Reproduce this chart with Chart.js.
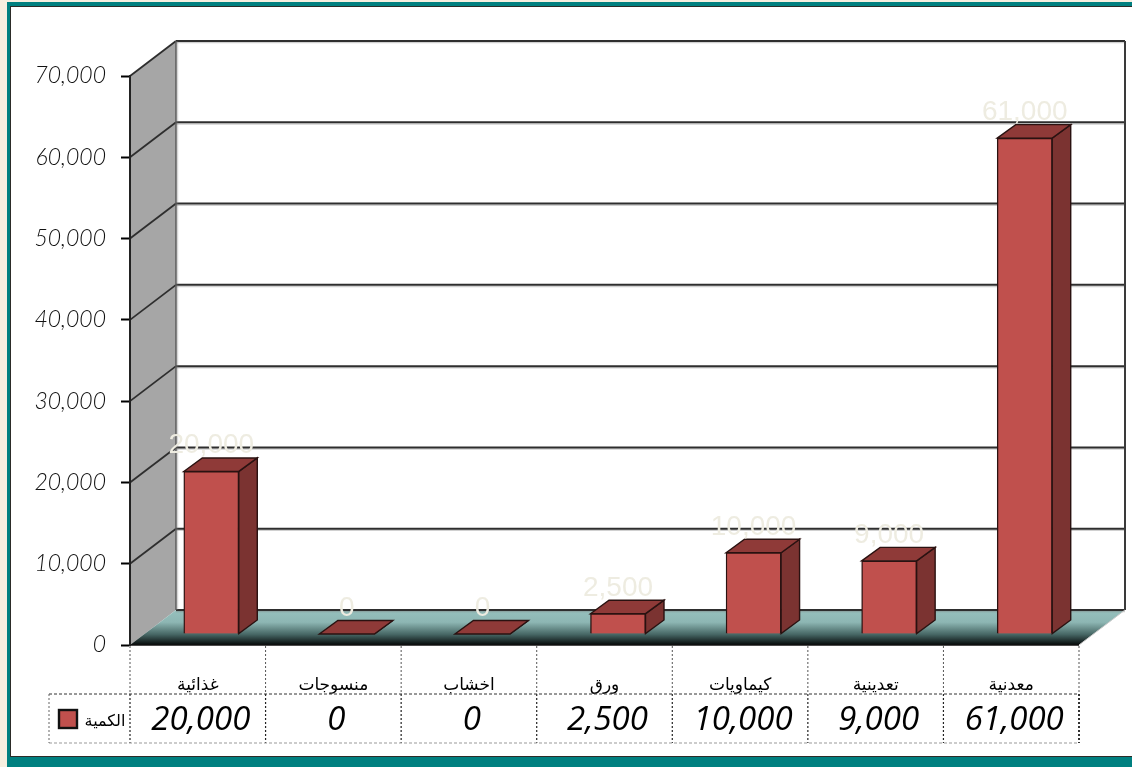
<!DOCTYPE html>
<html lang="ar">
<head>
<meta charset="utf-8">
<title>الكمية</title>
<script src="https://cdn.jsdelivr.net/npm/chart.js@4"></script>
<style>
  html, body { margin: 0; height: 100%; overflow: hidden; background: #f6efe0; }
  #frame { position: absolute; left: 7px; top: 2px; width: 1140px; height: 765px; background: #008080; }
  #inner { position: absolute; left: 3px; top: 4px; width: 1130px; height: 749px; background: #fff; border: 1.5px solid #2c2c28; }
  #chart { position: absolute; left: 0; top: 0; }
</style>
</head>
<body>
<div id="frame"><div id="inner"></div></div>
<canvas id="chart" width="1132" height="767" style="width:1132px;height:767px"></canvas>
<script>
var categories = ["غذائية", "منسوجات", "اخشاب", "ورق", "كيماويات", "تعدينية", "معدنية"];
var values = [20000, 0, 0, 2500, 10000, 9000, 61000];
var seriesName = "الكمية";
var yTicks = [0, 10000, 20000, 30000, 40000, 50000, 60000, 70000];

var wallDx = 46, wallDy = 35;     // back wall offset from the front plane
var barDx = 13.5, barDy = 11;     // bars stand part way into the floor
var sideDx = 18.5, sideDy = 13.5; // depth of each bar

function fmt(v) { return v.toLocaleString("en-US"); }

function poly(ctx, pts, fill, stroke, lw) {
  ctx.beginPath();
  ctx.moveTo(pts[0][0], pts[0][1]);
  for (var i = 1; i < pts.length; i++) ctx.lineTo(pts[i][0], pts[i][1]);
  ctx.closePath();
  if (fill) { ctx.fillStyle = fill; ctx.fill(); }
  if (stroke) { ctx.strokeStyle = stroke; ctx.lineWidth = lw || 1; ctx.stroke(); }
}

function line(ctx, x1, y1, x2, y2, color, lw, dash) {
  ctx.beginPath();
  ctx.setLineDash(dash || []);
  ctx.moveTo(x1, y1);
  ctx.lineTo(x2, y2);
  ctx.strokeStyle = color;
  ctx.lineWidth = lw;
  ctx.stroke();
  ctx.setLineDash([]);
}

var walls = {
  id: "walls",
  beforeDraw: function(chart) {
    var ctx = chart.ctx, a = chart.chartArea, y = chart.scales.y;
    var y0 = y.getPixelForValue(0), yTop = y.getPixelForValue(70000);
    ctx.save();
    // left wall
    poly(ctx, [[a.left, yTop], [a.left + wallDx, yTop - wallDy], [a.left + wallDx, y0 - wallDy], [a.left, y0]], "#a6a6a6");
    // floor
    var g = ctx.createLinearGradient(0, y0 - wallDy, 0, y0);
    g.addColorStop(0, "#96c0bd");
    g.addColorStop(0.35, "#8db6b3");
    g.addColorStop(0.7, "#466664");
    g.addColorStop(1, "#050808");
    poly(ctx, [[a.left, y0], [a.right, y0], [a.right + wallDx, y0 - wallDy], [a.left + wallDx, y0 - wallDy]], g);
    // grid lines on the back wall and the left wall
    yTicks.forEach(function(t) {
      var p = y.getPixelForValue(t);
      if (t > 0) {
        line(ctx, a.left, p, a.left + wallDx, p - wallDy, "#2e2e2e", 1.8);
      }
      line(ctx, a.left + wallDx, p - wallDy + 1.6, a.right + wallDx, p - wallDy + 1.6, "rgba(120,120,120,0.35)", 1.5);
      line(ctx, a.left + wallDx, p - wallDy, a.right + wallDx, p - wallDy, "#2e2e2e", 2);
    });
    line(ctx, a.left + wallDx, yTop - wallDy, a.left + wallDx, y0 - wallDy, "#5a5a5a", 1.5);
    line(ctx, a.left + wallDx + 1.5, yTop - wallDy, a.left + wallDx + 1.5, y0 - wallDy, "rgba(120,120,120,0.3)", 1.5);
    line(ctx, a.right + wallDx, yTop - wallDy, a.right + wallDx, y0 - wallDy, "#3a3a3a", 2);
    line(ctx, a.right, y0, a.right + wallDx, y0 - wallDy, "#c9c9c9", 1);
    line(ctx, a.left, y0, a.right, y0, "#111", 1.5);
    ctx.restore();
  }
};

var bars3d = {
  id: "bars3d",
  beforeDatasetDraw: function(chart, args) {
    var ctx = chart.ctx;
    ctx.save();
    ctx.translate(barDx, -barDy);
    args.meta.data.forEach(function(el) {
      var l = el.x - el.width / 2, r = el.x + el.width / 2, t = el.y, b = el.base;
      poly(ctx, [[r, t], [r + sideDx, t - sideDy], [r + sideDx, b - sideDy], [r, b]], "#7b3331", "#2a1211", 1.4);
      poly(ctx, [[l, t], [r, t], [r + sideDx, t - sideDy], [l + sideDx, t - sideDy]], "#8f3a38", "#2a1211", 1.4);
    });
  },
  afterDatasetDraw: function(chart, args) {
    var ctx = chart.ctx;
    ctx.restore();
    ctx.save();
    ctx.font = "28px 'Liberation Sans'";
    ctx.fillStyle = "#eeece1";
    ctx.textAlign = "center";
    ctx.textBaseline = "alphabetic";
    args.meta.data.forEach(function(el, i) {
      ctx.fillText(fmt(values[i]), el.x + barDx, el.y - barDy - 18);
    });
    ctx.restore();
  }
};

var dataTable = {
  id: "dataTable",
  afterDraw: function(chart) {
    var ctx = chart.ctx, a = chart.chartArea, x = chart.scales.x;
    var top = a.bottom, mid = 694, bot = 743, legendLeft = 49;
    var step = (a.right - a.left) / categories.length;
    var dash = [2, 2];
    ctx.save();
    for (var i = 0; i <= categories.length; i++) {
      var px = a.left + step * i;
      line(ctx, px, top + 1, px, mid, "#555", 1, dash);
      line(ctx, px, mid, px, bot, i == categories.length ? "#000" : "#222", i == categories.length ? 1.6 : 1.2, dash);
    }
    line(ctx, legendLeft, mid, a.right, mid, "#333", 1, [3, 2]);
    line(ctx, legendLeft, bot, a.right, bot, "#999", 1, [3, 2]);
    line(ctx, legendLeft, mid, legendLeft, bot, "#666", 1, dash);

    ctx.fillStyle = "#000";
    ctx.textAlign = "center";
    ctx.textBaseline = "alphabetic";
    ctx.font = "italic 500 33px 'Open Sans'";
    values.forEach(function(v, i) {
      ctx.fillText(fmt(v), x.getPixelForValue(i) + 3, 730);
    });

    // legend key
    ctx.fillStyle = "#c0504d";
    ctx.fillRect(59, 710, 18, 18);
    ctx.strokeStyle = "#111";
    ctx.lineWidth = 2.4;
    ctx.strokeRect(59, 710, 18, 18);
    ctx.fillStyle = "#000";
    ctx.font = "16px 'DejaVu Sans'";
    ctx.fillText(seriesName, 105, 726);
    ctx.restore();
  }
};

var chart = new Chart(document.getElementById("chart").getContext("2d"), {
  type: "bar",
  data: {
    labels: categories,
    datasets: [{
      label: seriesName,
      data: values,
      backgroundColor: "#c0504d",
      borderColor: "#2a1211",
      borderWidth: 1.4,
      barThickness: 55,
      clip: false
    }]
  },
  options: {
    responsive: false,
    animation: false,
    layout: { padding: { top: 76, right: 53, left: 0, bottom: 0 } },
    plugins: { legend: { display: false }, tooltip: { enabled: false } },
    scales: {
      x: {
        afterFit: function(scale) { scale.height = 122; },
        grid: { display: false },
        border: { display: false },
        ticks: {
          color: "#000",
          padding: 22,
          maxRotation: 0,
          font: { family: "'DejaVu Sans'", size: 17 }
        }
      },
      y: {
        min: 0,
        max: 70000,
        afterFit: function(scale) { scale.width = 130; },
        afterBuildTicks: function(scale) {
          scale.ticks = yTicks.map(function(v) { return { value: v }; });
        },
        grid: { drawOnChartArea: false, drawTicks: true, tickLength: 9, tickColor: "#000", tickWidth: 2 },
        border: { display: true, color: "#222", width: 2 },
        ticks: {
          color: "#111",
          padding: 15,
          callback: function(v) { return fmt(v); },
          font: { family: "Lato", size: 23, style: "italic", weight: "300" }
        }
      }
    }
  },
  plugins: [walls, bars3d, dataTable]
});
</script>
</body>
</html>
